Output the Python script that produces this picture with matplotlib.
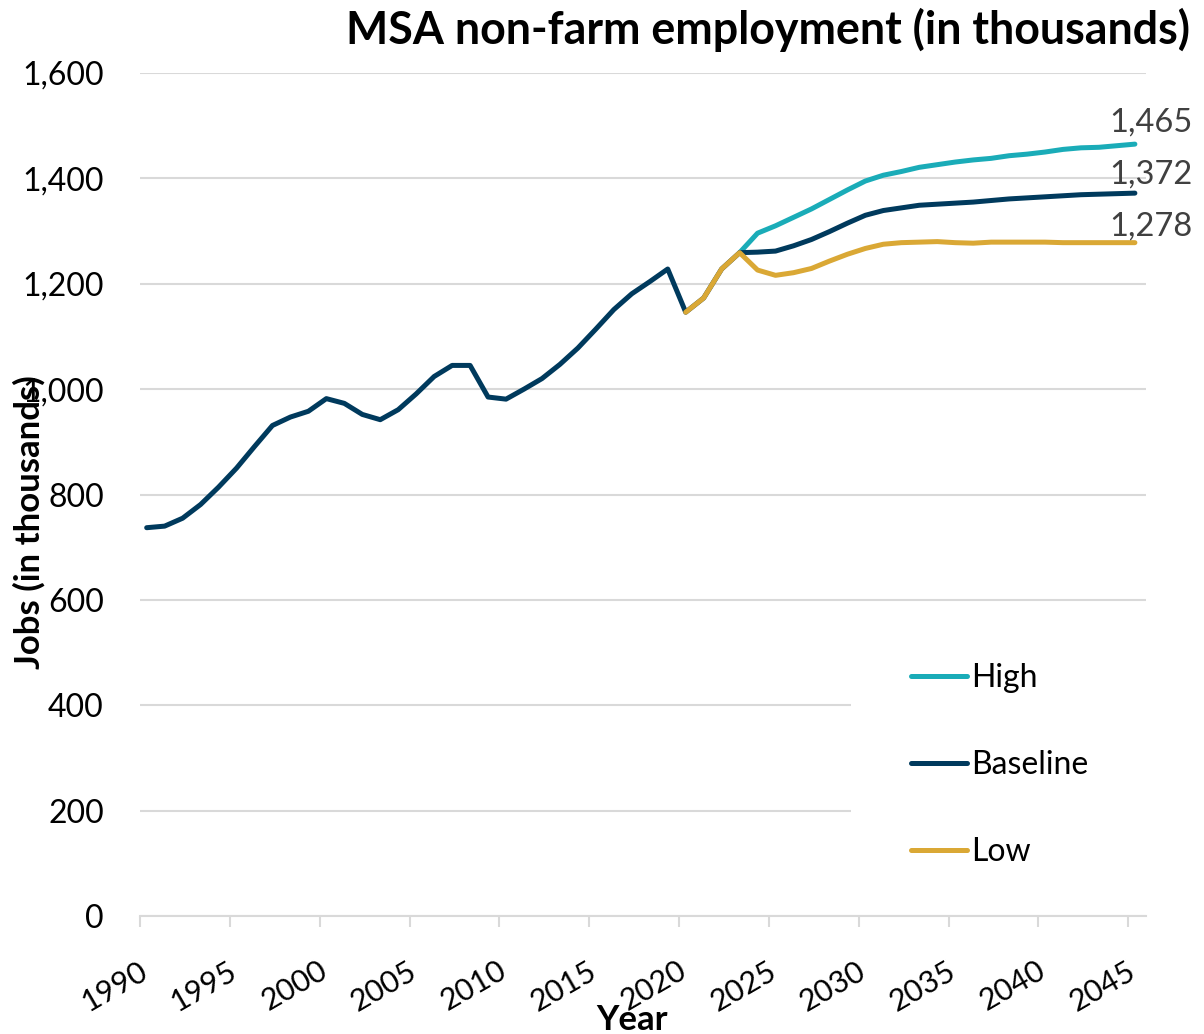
import matplotlib.pyplot as plt
import matplotlib.transforms as mtransforms
from matplotlib.patches import Rectangle
from matplotlib.ticker import FuncFormatter

plt.rcParams["font.family"] = ["Lato", "DejaVu Sans"]

# historical / baseline series, 1990-2045
base_years = list(range(1990, 2046))
baseline = [
    737, 740, 755, 781, 814, 850, 891, 931, 947, 958,
    982, 973, 952, 942, 961, 991, 1024, 1045, 1045, 985,
    981, 1000, 1020, 1047, 1078, 1114, 1151, 1181, 1204, 1228,
    1146, 1173, 1228, 1259, 1260, 1262, 1272, 1284, 1299, 1315,
    1330, 1339, 1344, 1349, 1351, 1353, 1355, 1358, 1361, 1363,
    1365, 1367, 1369, 1370, 1371, 1372,
]

high_years = list(range(2023, 2046))
high = [
    1259, 1296, 1310, 1326, 1342, 1360, 1378, 1395, 1406, 1413,
    1421, 1426, 1431, 1435, 1438, 1443, 1446, 1450, 1455, 1458,
    1459, 1462, 1465,
]

low_years = list(range(2020, 2046))
low = [
    1146, 1173, 1228, 1259, 1226, 1216, 1221, 1229, 1243, 1256,
    1267, 1275, 1278, 1279, 1280, 1278, 1277, 1279, 1279, 1279,
    1279, 1278, 1278, 1278, 1278, 1278,
]

NAVY = "#003a5d"
TEAL = "#1aacb8"
GOLD = "#daa835"
GRID = "#d9d9d9"

# points sit a bit past the start-of-year tick (Excel date axis)
off = 0.37

fig = plt.figure(figsize=(12.04, 10.34), dpi=100)
ax = fig.add_axes([0.1163, 0.1141, 0.8357, 0.8153])

lw = 3.6
l_high, = ax.plot([y + off for y in high_years], high, color=TEAL, lw=lw,
                  solid_capstyle="round", solid_joinstyle="round", label="High")
l_base, = ax.plot([y + off for y in base_years], baseline, color=NAVY, lw=lw,
                  solid_capstyle="round", solid_joinstyle="round", label="Baseline")
l_low, = ax.plot([y + off for y in low_years], low, color=GOLD, lw=lw,
                 solid_capstyle="round", solid_joinstyle="round", label="Low")

# end labels
for yrs, vals, dy in [(high_years, high, 9), (base_years, baseline, 7),
                      (low_years, low, 5)]:
    ax.annotate(f"{vals[-1]:,}", (yrs[-1] + off, vals[-1]),
                xytext=(11.5, dy), textcoords="offset points",
                ha="center", va="baseline", fontsize=23.5, color="#404040",
                annotation_clip=False)

ax.set_xlim(1990, 2046)
ax.set_ylim(0, 1600)
ax.set_xticks(range(1990, 2046, 5))
ax.set_yticks(range(0, 1601, 200))
ax.yaxis.set_major_formatter(FuncFormatter(lambda v, p: f"{int(v):,}"))

ax.grid(axis="y", color=GRID, lw=1.5)
ax.set_axisbelow(True)
for s in ["top", "right", "left"]:
    ax.spines[s].set_visible(False)
ax.spines["bottom"].set_color(GRID)
ax.spines["bottom"].set_linewidth(1.5)

ax.tick_params(axis="y", length=0, pad=26, labelsize=23)
ax.tick_params(axis="x", length=8, width=1.5, color=GRID, pad=21, labelsize=22)
shift = mtransforms.ScaledTranslation(12 / 100, 0, fig.dpi_scale_trans)
for lab in ax.get_xticklabels():
    lab.set_rotation(30)
    lab.set_ha("right")
    lab.set_va("top")
    lab.set_transform(lab.get_transform() + shift)

ax.set_xlabel("Year", fontsize=25, fontweight="bold")
ax.xaxis.set_label_coords(0.489, -0.104)
ax.set_ylabel("Jobs (in thousands)", fontsize=25, fontweight="bold")
ax.yaxis.set_label_coords(-0.094, 0.467)

fig.text(0.988, 0.971, "MSA non-farm employment (in thousands)", ha="right",
         va="center", fontsize=32.2, fontweight="bold")

# white block behind the legend hides the grid there
ax.add_patch(Rectangle((0.707, 0.02), 0.3, 0.34, transform=ax.transAxes,
                       facecolor="white", edgecolor="none", zorder=1))

ax.legend(handles=[l_high, l_base, l_low], loc="center left",
          bbox_to_anchor=(0.750, 0.179), fontsize=23, frameon=False,
          handlelength=1.78, handletextpad=0.1, labelspacing=1.78,
          borderpad=0)
for h in ax.get_legend().legend_handles:
    h.set_solid_capstyle("round")

fig.savefig("out.png", dpi=100)
